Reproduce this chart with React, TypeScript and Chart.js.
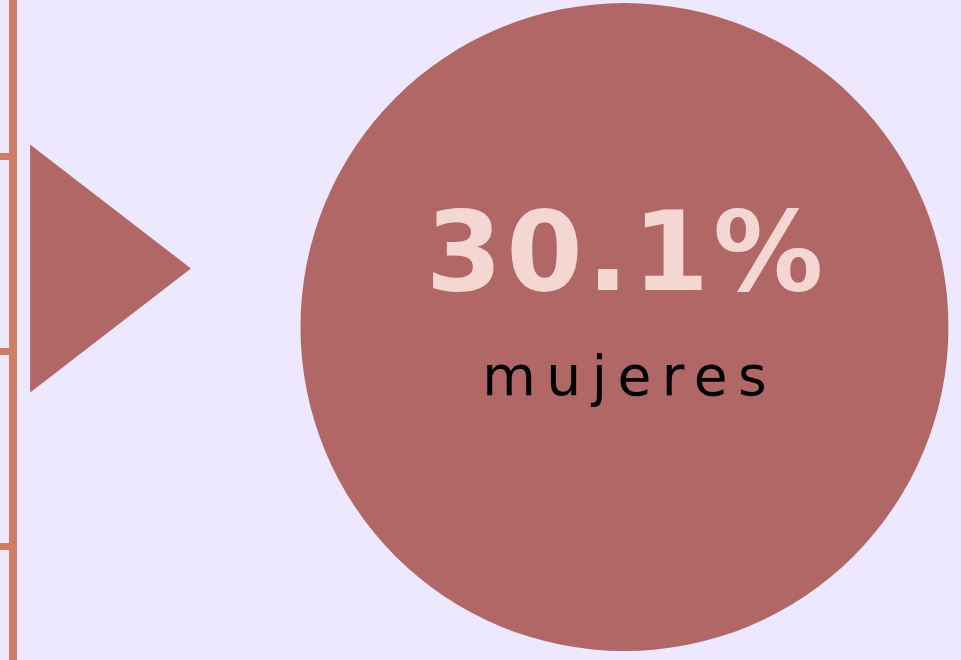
import { useEffect, useRef } from "react";
import { Chart, registerables } from "chart.js";

Chart.register(...registerables);

// ---- data ----
const axisTickValues = [1, 2, 3];
const yRange = [0.42, 3.8];
const xRange = [0, 100];
const markerX = [1.8, 18.7];
const markerTopY = [3.057, 2.425];
const markerBottomY = [1.792, 2.425];
const bubbleX = [64.5];
const bubbleY = [2.125];
const bubbleR = [324];
const shareValue = 30.1;
const shareCaption = "mujeres";

// ---- styles ----
const BG = "#EEE8FF";
const AXIS = "#CF7D63";
const MARK = "#B06765";
const VALUE_TEXT = "#F4D6D3";
const CAPTION_TEXT = "#000000";

const textPlugin = {
  id: "centerText",
  afterDatasetsDraw(chart: any) {
    const meta = chart.getDatasetMeta(2);
    const el = meta.data[0];
    if (!el) return;
    const { x, y } = el.getProps(["x", "y"], true);
    const ctx = chart.ctx as CanvasRenderingContext2D;
    ctx.save();
    ctx.textAlign = "center";
    ctx.textBaseline = "alphabetic";
    const sp1 = 4;
    (ctx as any).letterSpacing = sp1 + "px";
    ctx.font = "bold 110px 'DejaVu Sans'";
    ctx.fillStyle = VALUE_TEXT;
    ctx.fillText(shareValue.toFixed(1) + "%", x + sp1 / 2, y - 37);
    const sp2 = 10.5;
    (ctx as any).letterSpacing = sp2 + "px";
    ctx.font = "55px 'DejaVu Sans'";
    ctx.fillStyle = CAPTION_TEXT;
    ctx.fillText(shareCaption, x + sp2 / 2, y + 68);
    ctx.restore();
  },
};

const bgPlugin = {
  id: "bg",
  beforeDraw(chart: any) {
    const ctx = chart.ctx;
    ctx.save();
    ctx.fillStyle = BG;
    ctx.fillRect(0, 0, chart.width, chart.height);
    ctx.restore();
  },
};

export default function App() {
  const ref = useRef<HTMLCanvasElement | null>(null);
  useEffect(() => {
    if (!ref.current) return;
    const chart = new Chart(ref.current, {
      type: "bubble",
      data: {
        datasets: [
          {
            type: "line",
            data: markerX.map((x, i) => ({ x, y: markerTopY[i] })),
            backgroundColor: MARK,
            borderColor: MARK,
            borderWidth: 1,
            pointRadius: 0,
            tension: 0,
            fill: "+1",
          } as any,
          {
            type: "line",
            data: markerX.map((x, i) => ({ x, y: markerBottomY[i] })),
            backgroundColor: MARK,
            borderColor: MARK,
            borderWidth: 1,
            pointRadius: 0,
            tension: 0,
            fill: false,
          } as any,
          {
            type: "bubble",
            data: bubbleX.map((x, i) => ({ x, y: bubbleY[i], r: bubbleR[i] })),
            backgroundColor: MARK,
            borderWidth: 0,
            hoverRadius: 0,
          } as any,
        ],
      },
      options: {
        animation: false,
        responsive: false,
        devicePixelRatio: 1,
        events: [],
        layout: { autoPadding: false, padding: 0 },
        plugins: {
          legend: { display: false },
          tooltip: { enabled: false },
          title: { display: false },
        },
        scales: {
          x: {
            type: "linear",
            display: false,
            min: xRange[0],
            max: xRange[1],
          },
          y: {
            type: "linear",
            position: "left",
            min: yRange[0],
            max: yRange[1],
            afterBuildTicks: (scale: any) => {
              scale.ticks = axisTickValues.map((v) => ({ value: v }));
            },
            ticks: { display: false, stepSize: 1, includeBounds: false },
            border: { display: true, width: 8, color: AXIS },
            grid: {
              display: true,
              drawOnChartArea: false,
              drawTicks: true,
              tickLength: 13,
              tickWidth: 7,
              lineWidth: 7,
              color: AXIS,
              tickColor: AXIS,
            },
          },
        },
      } as any,
      plugins: [bgPlugin, textPlugin],
    });
    return () => chart.destroy();
  }, []);
  return (
    <div style={{ position: "fixed", left: 0, top: 0, width: 961, height: 660, background: BG }}>
      <canvas ref={ref} width={961} height={660} style={{ display: "block", width: 961, height: 660 }} />
    </div>
  );
}
